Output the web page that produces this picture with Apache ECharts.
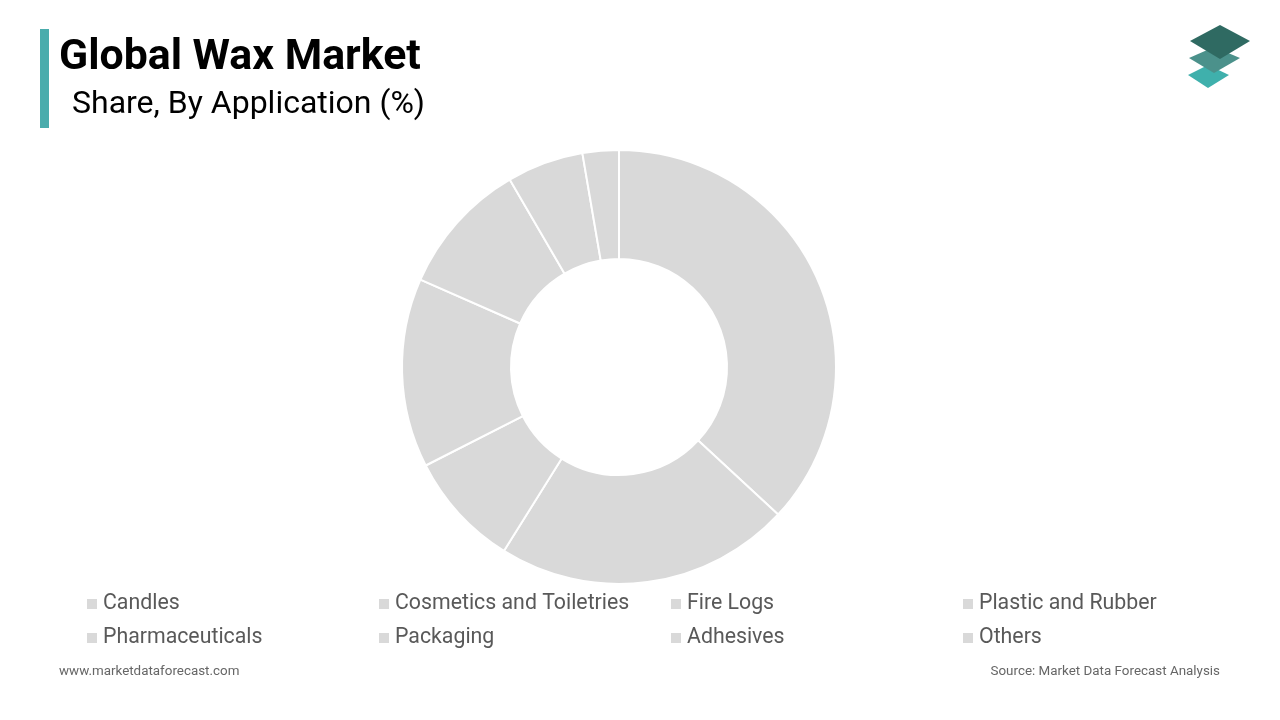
<!DOCTYPE html>
<html>
<head>
<meta charset="utf-8">
<script src="https://cdn.jsdelivr.net/npm/echarts@6/dist/echarts.min.js"></script>
<style>html,body{margin:0;padding:0;background:#fff;}#c{width:1280px;height:720px;}</style>
</head>
<body>
<div id="c"></div>
<script>
const categories = ["Candles", "Cosmetics and Toiletries", "Fire Logs", "Plastic and Rubber", "Pharmaceuticals", "Packaging", "Adhesives", "Others"];
const shares = [36.9, 22.0, 8.6, 14.1, 10.0, 5.7, 2.7, 0];
const titleText = "Global Wax Market";
const subtitleText = "Share, By Application (%)";
const footerLeft = "www.marketdataforecast.com";
const footerRight = "Source: Market Data Forecast Analysis";

const chart = echarts.init(document.getElementById('c'));
const sliceColor = '#d9d9d9';
chart.setOption({
  animation: false,
  backgroundColor: '#ffffff',
  legend: {
    left: 87, top: 587, width: 1180, padding: 0,
    orient: 'horizontal',
    icon: 'rect', itemWidth: 10, itemHeight: 10, itemGap: 0,
    itemStyle: { borderWidth: 0 },
    data: categories,
    textStyle: { fontFamily: 'Roboto', fontSize: 21.3, color: '#595959', width: 276, lineHeight: 34, padding: [0,0,0,1] },
    selectedMode: false
  },
  graphic: [
    { type: 'rect', shape: { x: 40, y: 29, width: 9, height: 99 }, style: { fill: '#4aacac' } },
    { type: 'text', left: 59, top: 37, style: { text: titleText, font: 'bold 42.8px Roboto', fill: '#000' } },
    { type: 'text', left: 72, top: 89, style: { text: subtitleText, font: '32px Roboto', fill: '#000' } },
    { type: 'polygon', shape: { points: [[1188,75],[1208,65],[1229,75],[1208,88]] }, style: { fill: '#3fb0ac' } },
    { type: 'polygon', shape: { points: [[1189,58],[1214,47],[1240,58],[1214,73]] }, style: { fill: '#4b918b' } },
    { type: 'polygon', shape: { points: [[1190,41],[1220,25],[1250,41],[1220,59]] }, style: { fill: '#2f6a62' } },
    { type: 'text', left: 59, top: 665, style: { text: footerLeft, font: '13.4px Roboto', fill: '#666' } },
    { type: 'text', right: 60, top: 665, style: { text: footerRight, font: '13.4px Roboto', fill: '#666' } }
  ],
  series: [{
    type: 'pie',
    center: [619, 367],
    radius: [108, 217],
    startAngle: 90,
    clockwise: true,
    label: { show: false },
    labelLine: { show: false },
    emphasis: { disabled: true },
    itemStyle: { color: sliceColor, borderColor: '#ffffff', borderWidth: 2 },
    data: categories.map((n, i) => ({ name: n, value: shares[i] }))
  }]
});
</script>
</body>
</html>
